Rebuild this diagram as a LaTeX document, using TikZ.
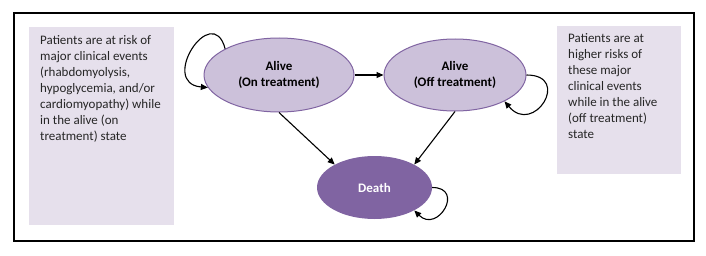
\documentclass[tikz,border=0pt]{standalone}
\usepackage{fontspec}
\setmainfont{Carlito}
\usetikzlibrary{arrows.meta, positioning, shapes.geometric}
\definecolor{statepurple}{HTML}{8064A2}
\definecolor{alivefill}{HTML}{CCC1DA}
\definecolor{notefill}{HTML}{E6E0EC}

\begin{document}
\begin{tikzpicture}[x=1pt, y=1pt,
  alive/.style={ellipse, draw=statepurple, line width=1pt, fill=alivefill,
                minimum width=150pt, minimum height=74pt, inner sep=0pt,
                align=center, font=\fontsize{13}{16}\selectfont\bfseries},
  dead/.style={ellipse, fill=statepurple, text=white, minimum width=115pt,
               minimum height=63pt, inner sep=0pt,
               font=\fontsize{13}{16}\selectfont\bfseries},
  note/.style={anchor=north west, inner sep=0pt, align=left,
               font=\fontsize{13}{16}\selectfont, text=black!85},
  arrow/.style={-{Triangle[length=7pt, width=6pt]}, line width=1.1pt, black},
]
\useasboundingbox (0,0) rectangle (706,255);

% Frame
\draw[line width=1.6pt] (14,14) rectangle (694,242);

% Notes
\fill[notefill] (29,30) rectangle (174,228);
\fill[notefill] (557,81) rectangle (681,229);
\node[note] (leftnote) at (40,220) {Patients are at risk of\\major clinical events\\(rhabdomyolysis,\\hypoglycemia, and/or\\cardiomyopathy) while\\in the alive (on\\treatment) state};
\node[note] (rightnote) at (568,222) {Patients are at\\higher risks of\\these major\\clinical events\\while in the alive\\(off treatment)\\state};

% States
\node[alive] (on) at (279,180) {Alive\\(On treatment)};
\node[alive, minimum width=142pt, minimum height=72pt, right=29pt of on] (off) {Alive\\(Off treatment)};
\node[dead] (death) at (374.5,67.5) {Death};

% Transitions
\draw[arrow] (on) -- (off);
\draw[arrow] (on.south) -- (death.150);
\draw[arrow] (off.south) -- (death.30);

% Self loops
\draw[arrow] (on.154) to[out=105, in=175, looseness=3] (on.190);
\draw[arrow] (off.0) to[out=0, in=-50, looseness=3.4] (off.-28);
\draw[arrow] (death.0) to[out=0, in=-45, looseness=2.9] (death.-30);
\end{tikzpicture}
\end{document}
